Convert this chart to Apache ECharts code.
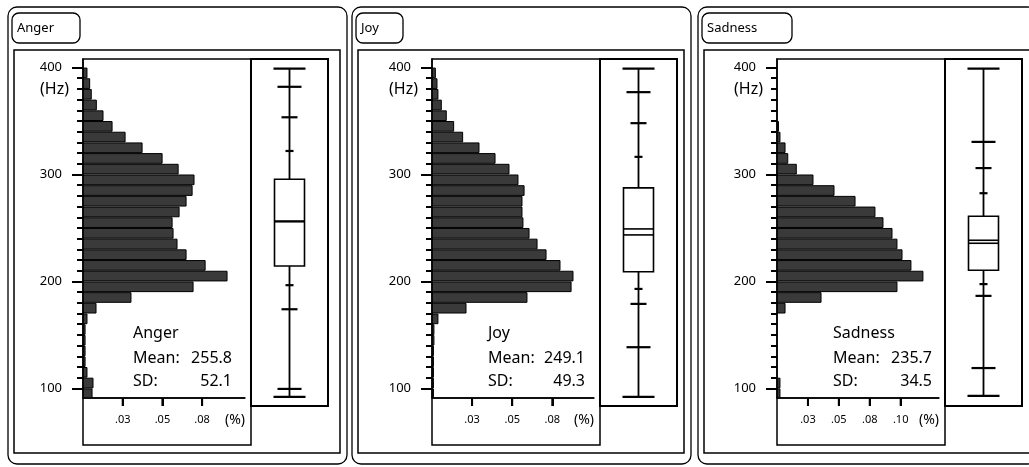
<!DOCTYPE html>
<html>
<head>
<meta charset="utf-8">
<script src="https://cdn.jsdelivr.net/npm/echarts@6/dist/echarts.min.js"></script>
<style>
html, body { margin: 0; padding: 0; background: #fff; }
#chart { width: 1029px; height: 467px; background: #fff; }
</style>
</head>
<body>
<div id="chart"></div>
<script>
// panels
const emotions = ['Anger', 'Joy', 'Sadness'];
const means = [255.8, 249.1, 235.7];
const sds = [52.1, 49.3, 34.5];

// histogram bins (lower edge, Hz), 10 Hz wide
const binStarts = [90, 100, 110, 120, 130, 140, 150, 160, 170, 180, 190, 200, 210, 220, 230, 240,
    250, 260, 270, 280, 290, 300, 310, 320, 330, 340, 350, 360, 370, 380, 390];

// share of samples per bin
const angerHist = [0.0057, 0.0063, 0.0025, 0.0013, 0.0013, 0.0013, 0.0013, 0.0025, 0.0082, 0.0302,
    0.0693, 0.0907, 0.0769, 0.0649, 0.0592, 0.0567, 0.0561, 0.0605, 0.0649, 0.0687, 0.0699, 0.0599,
    0.0498, 0.0372, 0.0265, 0.0183, 0.0126, 0.0084, 0.0052, 0.0042, 0.0025];
const joyHist = [0.0009, 0.0009, 0.0009, 0.0009, 0.0009, 0.0012, 0.0012, 0.0037, 0.0212, 0.0592,
    0.0867, 0.0879, 0.0798, 0.0711, 0.0655, 0.0605, 0.0567, 0.0561, 0.0561, 0.0574, 0.0536, 0.0480,
    0.0393, 0.0293, 0.0191, 0.0135, 0.0089, 0.0058, 0.0037, 0.0031, 0.0021];
const sadnessHist = [0.0024, 0.0024, 0, 0, 0, 0, 0, 0, 0.0065, 0.0356,
    0.0970, 0.1180, 0.1083, 0.1011, 0.0970, 0.0930, 0.0857, 0.0792, 0.0631, 0.0461, 0.0291, 0.0156,
    0.0087, 0.0065, 0.0024, 0.0012, 0, 0, 0, 0, 0];

// box plot: min, 0.5%, 2.5%, 10%, Q1, median, Q3, 90%, 97.5%, 99.5%, max
const angerBox = [92, 99.5, 174, 196.5, 214.5, 256.5, 295.5, 322, 353.5, 382, 399];
const joyBox = [92, 138.5, 179, 193, 209, 243.5, 287.5, 316.5, 348, 377, 399];
const sadnessBox = [93, 119, 186.5, 197.5, 210.5, 238.5, 261, 282.5, 306, 330.5, 399];

// axis ticks
const hzTicks = [100, 200, 300, 400];
const hzNameTick = 380;
const pctTicks = [0.025, 0.05, 0.075, 0.1];
const pctLabels = ['.03', '.05', '.08', '.10'];
const pctTickCount = [3, 3, 4];
const pctMax = [0.102, 0.101, 0.131];

const hists = [angerHist, joyHist, sadnessHist];
const boxes = [angerBox, joyBox, sadnessBox];

// layout
const outerLeft = [8, 352, 698];
const histLeft = [83, 432, 777];
const titleWidth = [68, 47, 90];
const statLeft = [50, 56, 56];
const statRight = [149, 153, 155];

const FONT = '"Noto Sans", "DejaVu Sans", sans-serif';
const HZ_MIN = 91;
const HZ_MAX = 408;

const minorTicks = [];
for (let v = 100; v <= 400; v += 10) minorTicks.push(v);

const grids = [];
const xAxes = [];
const yAxes = [];
const series = [];
const graphics = [];
const pctAxisIdx = [];
const hzAxisIdx = [];

function frame(x, y, w, h, lw, r) {
    return {
        type: 'rect',
        shape: { x: x, y: y, width: w, height: h, r: r || 0 },
        style: { fill: 'none', stroke: '#000', lineWidth: lw },
        z: 10,
    };
}

function label(x, y, text, size, align) {
    return {
        type: 'text',
        x: x,
        y: y,
        z: 11,
        style: {
            text: text,
            font: size + 'px ' + FONT,
            fill: '#000',
            align: align || 'left',
            verticalAlign: 'middle',
        },
    };
}

emotions.forEach((name, i) => {
    const ox = outerLeft[i];
    const hx = histLeft[i];

    graphics.push(
        frame(ox, 7, 339, 457, 1.3, 9),
        frame(ox + 4, 13, titleWidth[i], 30, 1.3, 7),
        label(ox + 9, 28, name, 13),
        frame(ox + 6, 50, 326, 403, 1.5),
        frame(hx, 59, 168, 386, 1.5),
        frame(hx + 168, 59, 77, 347, 2),
        label(hx + statLeft[i], 333, name, 16),
        label(hx + statLeft[i], 358, 'Mean:', 16),
        label(hx + statRight[i], 358, means[i].toFixed(1), 16, 'right'),
        label(hx + statLeft[i], 381, 'SD:', 16),
        label(hx + statRight[i], 381, sds[i].toFixed(1), 16, 'right')
    );

    // histogram grid and box grid
    const gH = grids.length;
    grids.push({ left: hx, top: 59, width: 162, height: 339 });
    const gB = grids.length;
    grids.push({ left: hx + 168, top: 59, width: 77, height: 339 });

    const ticks = pctTicks.slice(0, pctTickCount[i]);

    const xH = xAxes.length;
    pctAxisIdx.push(xH);
    xAxes.push({
        gridIndex: gH,
        type: 'value',
        min: 0,
        max: pctMax[i],
        splitLine: { show: false },
        axisLine: { show: true, lineStyle: { color: '#000', width: 1.5 } },
        axisTick: { show: true, customValues: ticks, length: 8, lineStyle: { color: '#000', width: 2 } },
        axisLabel: {
            show: true,
            customValues: ticks,
            formatter: (v) => pctLabels[Math.round(v / 0.025) - 1] || '',
            margin: 16,
            fontSize: 11,
            color: '#000',
            fontFamily: FONT,
        },
        name: '(%)',
        nameLocation: 'end',
        nameGap: 0,
        nameTextStyle: {
            align: 'right',
            verticalAlign: 'top',
            padding: [15, 0, 0, 0],
            fontSize: 14,
            color: '#000',
            fontFamily: FONT,
        },
    });
    const xB = xAxes.length;
    xAxes.push({ gridIndex: gB, type: 'value', min: 0, max: 1, show: false });

    // minor ticks + (Hz)
    const yH = yAxes.length;
    hzAxisIdx.push(yH);
    yAxes.push({
        gridIndex: gH,
        type: 'value',
        min: HZ_MIN,
        max: HZ_MAX,
        position: 'left',
        splitLine: { show: false },
        axisLine: { show: true, onZero: false, lineStyle: { color: '#000', width: 1.5 } },
        axisTick: { show: true, customValues: minorTicks, length: 6, lineStyle: { color: '#000', width: 2 } },
        axisLabel: {
            show: true,
            customValues: [hzNameTick],
            formatter: () => '(Hz)',
            margin: 14,
            fontSize: 16,
            color: '#000',
            fontFamily: FONT,
        },
    });
    // major ticks
    yAxes.push({
        gridIndex: gH,
        type: 'value',
        min: HZ_MIN,
        max: HZ_MAX,
        position: 'left',
        offset: 0,
        splitLine: { show: false },
        axisLine: { show: false },
        axisTick: { show: true, customValues: hzTicks, length: 11, lineStyle: { color: '#000', width: 2 } },
        axisLabel: {
            show: true,
            customValues: hzTicks,
            margin: 21,
            fontSize: 13,
            color: '#000',
            fontFamily: FONT,
        },
    });
    const yB = yAxes.length;
    yAxes.push({ gridIndex: gB, type: 'value', min: HZ_MIN, max: HZ_MAX, show: false });

    series.push({
        type: 'custom',
        xAxisIndex: xH,
        yAxisIndex: yH,
        clip: true,
        data: binStarts.map((b, k) => [hists[i][k], b]),
        renderItem: (params, api) => {
            const v = api.value(0);
            const lo = api.value(1);
            if (!v) return;
            const p0 = api.coord([0, lo + 10]);
            const p1 = api.coord([v, lo]);
            return {
                type: 'rect',
                shape: { x: p0[0], y: p0[1] + 0.5, width: p1[0] - p0[0], height: p1[1] - p0[1] - 1 },
                style: { fill: '#3a3a3a', stroke: '#000', lineWidth: 1 },
            };
        },
    });

    series.push({
        type: 'custom',
        xAxisIndex: xB,
        yAxisIndex: yB,
        data: [[0.5].concat(boxes[i], [means[i]])],
        renderItem: (params, api) => {
            const vals = [];
            for (let k = 1; k <= 12; k++) vals.push(api.value(k));
            const cx = api.coord([0.5, HZ_MIN])[0];
            const y = (v) => api.coord([0.5, v])[1];
            const hline = (v, hw, lw) => ({
                type: 'line',
                shape: { x1: cx - hw, y1: y(v), x2: cx + hw, y2: y(v) },
                style: { stroke: '#000', lineWidth: lw },
            });
            const capW = [16, 12, 8, 4];
            const children = [{
                type: 'line',
                shape: { x1: cx, y1: y(vals[0]), x2: cx, y2: y(vals[10]) },
                style: { stroke: '#000', lineWidth: 1.8 },
            }];
            for (let j = 0; j < 4; j++) {
                children.push(hline(vals[j], capW[j], 2.2));
                children.push(hline(vals[10 - j], capW[j], 2.2));
            }
            children.push({
                type: 'rect',
                shape: { x: cx - 15, y: y(vals[6]), width: 30, height: y(vals[4]) - y(vals[6]) },
                style: { fill: '#fff', stroke: '#000', lineWidth: 1.6 },
            });
            children.push(hline(vals[5], 15, 1.6));
            children.push(hline(vals[11], 15, 1.6));
            return { type: 'group', children: children };
        },
    });
});

const option = {
    animation: false,
    grid: grids,
    xAxis: xAxes,
    yAxis: yAxes,
    series: series,
    graphic: graphics,
};

let myChart = echarts.init(document.getElementById('chart'));
myChart.setOption(option);

// percent axis baseline and ticks, placed with the chart's own scales
const axisMarks = [];
emotions.forEach((name, i) => {
    const xa = { xAxisIndex: pctAxisIdx[i] };
    const yb = myChart.convertToPixel({ yAxisIndex: hzAxisIdx[i] }, HZ_MIN);
    const x0 = myChart.convertToPixel(xa, 0);
    const x1 = myChart.convertToPixel(xa, pctMax[i]);
    axisMarks.push({
        type: 'line',
        z: 12,
        shape: { x1: x0, y1: yb, x2: x1, y2: yb },
        style: { stroke: '#000', lineWidth: 1.5 },
    });
    pctTicks.slice(0, pctTickCount[i]).forEach((t) => {
        const x = myChart.convertToPixel(xa, t);
        axisMarks.push({
            type: 'line',
            z: 12,
            shape: { x1: x, y1: yb, x2: x, y2: yb + 8 },
            style: { stroke: '#000', lineWidth: 2 },
        });
    });
});
myChart.setOption({ graphic: graphics.concat(axisMarks) });
</script>
</body>
</html>
